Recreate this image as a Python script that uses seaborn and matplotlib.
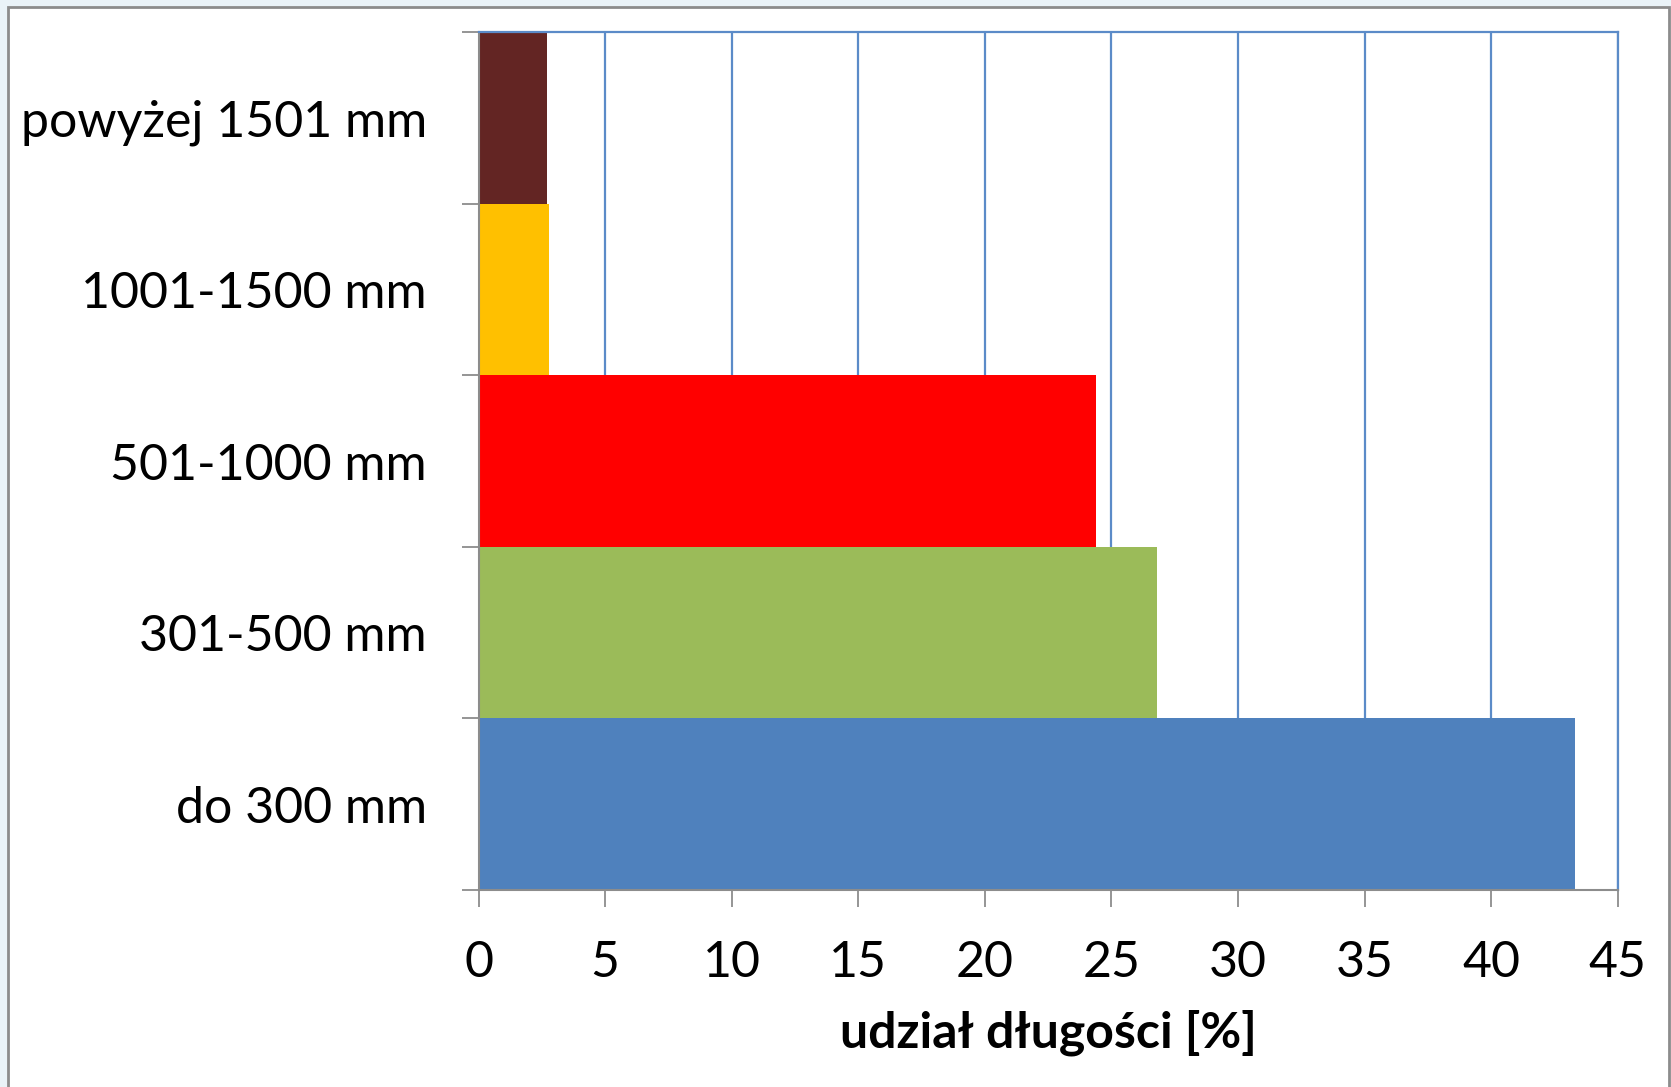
import matplotlib
matplotlib.use("Agg")
import matplotlib.pyplot as plt
from matplotlib.patches import Rectangle
from matplotlib.ticker import FixedLocator
import seaborn as sns
import pandas as pd

# Length classes (top to bottom) and their share of total length [%]
categories = ["powyżej 1501 mm", "1001-1500 mm", "501-1000 mm", "301-500 mm", "do 300 mm"]
shares = [2.7, 2.8, 24.4, 26.8, 43.3]
colors = ["#632523", "#FFC000", "#FF0000", "#9BBB59", "#4F81BD"]
x_ticks = [0, 5, 10, 15, 20, 25, 30, 35, 40, 45]
x_label = "udział długości [%]"

df = pd.DataFrame({"klasa": categories, "udzial": shares})

sns.set_theme(style="white")
plt.rcParams["font.family"] = ["Lato", "DejaVu Sans"]

fig = plt.figure(figsize=(16.71, 10.87), dpi=100, facecolor="#EAF3F8")
# white chart area with a grey frame, kept behind the axes
fig.patches.append(Rectangle((8 / 1671, -0.05), (1669 - 8) / 1671, 1 - 7 / 1087 + 0.05,
                             transform=fig.transFigure, facecolor="white",
                             edgecolor="#8C8C8C", linewidth=2.0, zorder=-10))

ax = fig.add_axes([478.5 / 1671, 197 / 1087, (1617.7 - 478.5) / 1671, (1055 - 197) / 1087])
ax.set_facecolor("white")

sns.barplot(data=df, x="udzial", y="klasa", hue="klasa", order=categories,
            hue_order=categories, palette=colors, width=1.0, saturation=1,
            legend=False, ax=ax, orient="h", linewidth=0)

ax.set_xlim(0, 45)
ax.set_ylim(4.5, -0.5)
ax.set_axisbelow(True)

ax.xaxis.set_major_locator(FixedLocator(x_ticks))
ax.set_xticklabels([str(t) for t in x_ticks])
ax.grid(axis="x", color="#5B8BC8", linewidth=1.6)
ax.grid(axis="y", visible=False)

# category ticks sit on the boundaries between bars
ax.yaxis.set_minor_locator(FixedLocator([i - 0.5 for i in range(len(categories) + 1)]))
ax.tick_params(axis="y", which="major", length=0, pad=37, labelsize=36, labelcolor="black")
ax.tick_params(axis="y", which="minor", length=12, width=1.3, color="#8C8C8C", left=True)
ax.tick_params(axis="x", which="major", length=12, width=1.3, color="#8C8C8C",
               bottom=True, pad=24, labelsize=36, labelcolor="black")

for side in ("left", "bottom"):
    ax.spines[side].set_color("#8C8C8C")
    ax.spines[side].set_linewidth(1.5)
for side in ("top", "right"):
    ax.spines[side].set_color("#5B8BC8")
    ax.spines[side].set_linewidth(1.6)

ax.set_ylabel("")
ax.set_xlabel(x_label, fontsize=36, fontweight="bold", color="black", labelpad=17)

fig.savefig("out.png", dpi=100, facecolor=fig.get_facecolor())
